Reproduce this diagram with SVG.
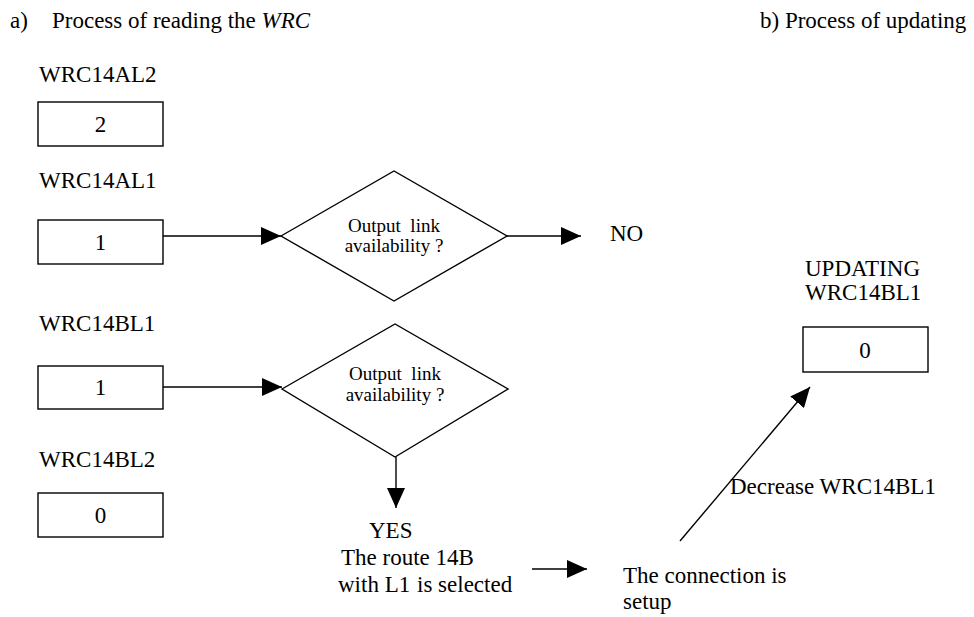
<svg xmlns="http://www.w3.org/2000/svg" width="974" height="617" viewBox="0 0 974 617">
  <style>
    text { font-family: "Liberation Serif", "Times New Roman", serif; fill: #000; font-size: 23px; }
    .mid { text-anchor: middle; }
    .small { font-size: 19px; }
    .box { fill: #fff; stroke: #000; stroke-width: 1.4; }
    .dia { fill: #fff; stroke: #000; stroke-width: 1.4; }
    .conn line { stroke: #000; stroke-width: 1.4; marker-end: url(#arrow); }
  </style>
  <defs>
    <marker id="arrow" markerUnits="userSpaceOnUse" markerWidth="20" markerHeight="18" refX="20" refY="9" orient="auto">
      <path d="M0,0 L20,9 L0,18 Z" fill="#000"/>
    </marker>
  </defs>
  <rect width="974" height="617" fill="#fff"/>

  <!-- headings -->
  <g id="title-a">
    <text x="10" y="28">a)</text>
    <text x="52" y="28">Process of reading the <tspan font-style="italic">WRC</tspan></text>
  </g>
  <g id="title-b">
    <text x="760" y="28">b) Process of updating</text>
  </g>

  <!-- counters -->
  <g id="wrc14al2">
    <text x="39" y="82">WRC14AL2</text>
    <rect class="box" x="38" y="102" width="125" height="44"/>
    <text class="mid" x="100.5" y="132">2</text>
  </g>
  <g id="wrc14al1">
    <text x="39" y="188">WRC14AL1</text>
    <rect class="box" x="38" y="220" width="125" height="44"/>
    <text class="mid" x="100.5" y="250">1</text>
  </g>
  <g id="wrc14bl1">
    <text x="39" y="331">WRC14BL1</text>
    <rect class="box" x="38" y="366" width="125" height="43"/>
    <text class="mid" x="100.5" y="395">1</text>
  </g>
  <g id="wrc14bl2">
    <text x="39" y="467">WRC14BL2</text>
    <rect class="box" x="38" y="493" width="125" height="44"/>
    <text class="mid" x="100.5" y="523">0</text>
  </g>

  <!-- decisions -->
  <g id="decision-a">
    <polygon class="dia" points="281,236 394,171 507,236 394,301"/>
    <text class="mid small" x="394" y="232" xml:space="preserve">Output  link</text>
    <text class="mid small" x="394" y="252">availability ?</text>
  </g>
  <g id="decision-b">
    <polygon class="dia" points="282,389 395,324 508,389 395,457"/>
    <text class="mid small" x="395" y="380" xml:space="preserve">Output  link</text>
    <text class="mid small" x="395" y="401">availability ?</text>
  </g>

  <!-- outcomes -->
  <g id="no">
    <text x="610" y="241">NO</text>
  </g>
  <g id="yes">
    <text x="369" y="538">YES</text>
    <text x="341" y="565">The route 14B</text>
    <text x="338" y="592">with L1 <tspan x="417">is selected</tspan></text>
  </g>
  <g id="setup">
    <text x="623" y="583">The connection is</text>
    <text x="623" y="609">setup</text>
  </g>

  <!-- updated counter -->
  <g id="updating">
    <text x="805" y="276">UPDATING</text>
    <text x="805" y="300">WRC14BL1</text>
    <rect class="box" x="803" y="327" width="125" height="45"/>
    <text class="mid" x="865" y="358">0</text>
  </g>
  <g id="decrease-label">
    <text x="730" y="494">Decrease WRC14BL1</text>
  </g>

  <!-- connectors -->
  <g id="connectors" class="conn">
    <line x1="163" y1="236" x2="281" y2="236"/>
    <line x1="507" y1="236" x2="581" y2="236"/>
    <line x1="163" y1="387" x2="282" y2="387"/>
    <line x1="396" y1="457" x2="396" y2="508"/>
    <line x1="532" y1="569" x2="587" y2="569"/>
    <line x1="680" y1="541" x2="810" y2="387"/>
  </g>
</svg>
